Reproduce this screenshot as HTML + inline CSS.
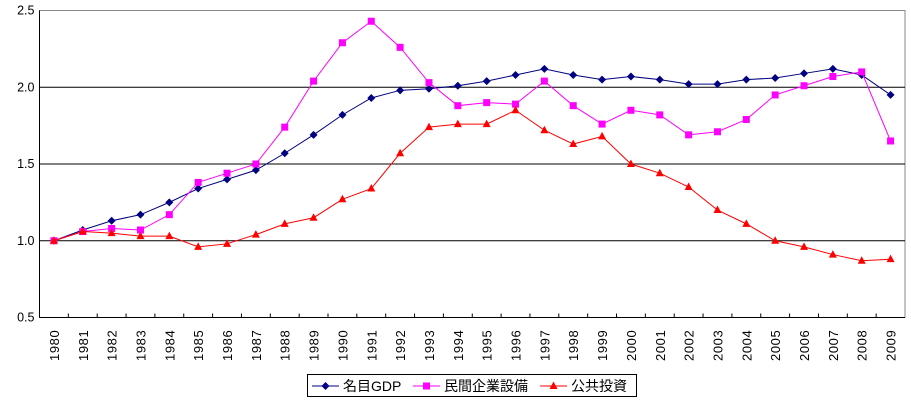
<!DOCTYPE html>
<html><head><meta charset="utf-8"><style>
body{margin:0;background:#fff;font-family:"Liberation Sans","Noto Sans CJK JP",sans-serif;}
</style></head><body>
<svg width="911" height="400" id="c" font-family="Liberation Sans, Noto Sans CJK JP, sans-serif">
<rect x="0" y="0" width="911" height="400" fill="#fff"/>
</svg>
<script>
const years=[1980,1981,1982,1983,1984,1985,1986,1987,1988,1989,1990,1991,1992,1993,1994,1995,1996,1997,1998,1999,2000,2001,2002,2003,2004,2005,2006,2007,2008,2009];
const gdp=[1.0,1.07,1.13,1.17,1.25,1.34,1.40,1.46,1.57,1.69,1.82,1.93,1.98,1.99,2.01,2.04,2.08,2.12,2.08,2.05,2.07,2.05,2.02,2.02,2.05,2.06,2.09,2.12,2.08,1.95];
const priv=[1.0,1.06,1.08,1.07,1.17,1.38,1.44,1.50,1.74,2.04,2.29,2.43,2.26,2.03,1.88,1.90,1.89,2.04,1.88,1.76,1.85,1.82,1.69,1.71,1.79,1.95,2.01,2.07,2.10,1.65];
const pub=[1.0,1.06,1.05,1.03,1.03,0.96,0.98,1.04,1.11,1.15,1.27,1.34,1.57,1.74,1.76,1.76,1.85,1.72,1.63,1.68,1.50,1.44,1.35,1.20,1.11,1.00,0.96,0.91,0.87,0.88];
const yTicks=[0.5,1.0,1.5,2.0,2.5];
const L=39.5,R=905,T=10.5,B=317.5;
const NS="http://www.w3.org/2000/svg";
const svg=document.getElementById('c');
const step=(R-L)/years.length;
const xs=i=>L+step*(i+0.5);
const ys=v=>B-(v-0.5)/2*(B-T);
function mk(t,a,p){const e=document.createElementNS(NS,t);for(const k in a)e.setAttribute(k,a[k]);(p||svg).appendChild(e);return e;}
let f=mk('rect',{x:L,y:T,width:R-L,height:B-T,fill:'none',stroke:'#888'});


yTicks.forEach(v=>{
  if(v>0.5&&v<2.5){let g=mk('line',{x1:L,x2:R,y1:ys(v),y2:ys(v),stroke:'#000'});
  
  }
  let t=mk('text',{x:L-5,y:ys(v)+4,'text-anchor':'end','font-size':12.5,fill:'#000'});
  t.textContent=v.toFixed(1);
  
  
});
let ax=mk('line',{x1:L,x2:L,y1:T,y2:B,stroke:'#000'});


let bx=mk('line',{x1:L,x2:R,y1:B,y2:B,stroke:'#000'});


years.forEach((y,i)=>{
  let tk=mk('line',{x1:L+step*i,x2:L+step*i,y1:B,y2:B-4,stroke:'#000'});
  
  
  let t=mk('text',{x:0,y:0,'font-size':13,'letter-spacing':'0.6',fill:'#000',transform:`translate(${xs(i)+5},${361}) rotate(-90)`});
  t.textContent=y;
  
  
});
function marker(type,x,y,color,p){
  let m;
  if(type==='d')m=mk('polygon',{points:`${x},${y-4} ${x+4},${y} ${x},${y+4} ${x-4},${y}`,fill:color},p);
  else if(type==='s')m=mk('rect',{x:x-3.5,y:y-3.5,width:7,height:7,fill:color},p);
  else m=mk('polygon',{points:`${x},${y-4.5} ${x+4},${y+3} ${x-4},${y+3}`,fill:color},p);
  
  
}
function series(data,color,type,name){
  const g=mk('g',{});
  
  
  let pl=mk('polyline',{points:data.map((v,i)=>xs(i)+','+ys(v)).join(' '),fill:'none',stroke:color,'stroke-width':1},g);
  
  
  data.forEach((v,i)=>marker(type,xs(i),ys(v),color,g));
}
series(gdp,'#000080','d','gdp-series');
series(priv,'#ff00ff','s','private-investment-series');
series(pub,'#ff0000','t','public-investment-series');
const lg=mk('g',{});


let lb=mk('rect',{x:307.5,y:374.5,width:329,height:22,fill:'#fff',stroke:'#000'},lg);


[['名目GDP','#000080','d',312],['民間企業設備','#ff00ff','s',413],['公共投資','#ff0000','t',540]].forEach(([lab,c,t,x])=>{
  const e=mk('g',{},lg);
  
  
  mk('line',{x1:x,x2:x+27,y1:386,y2:386,stroke:c},e);
  marker(t,x+13.5,386,c,e);
  const tx=mk('text',{x:x+31,y:391,'font-size':14,fill:'#000'},e);
  tx.textContent=lab;
  
  
});
</script>
</body></html>
